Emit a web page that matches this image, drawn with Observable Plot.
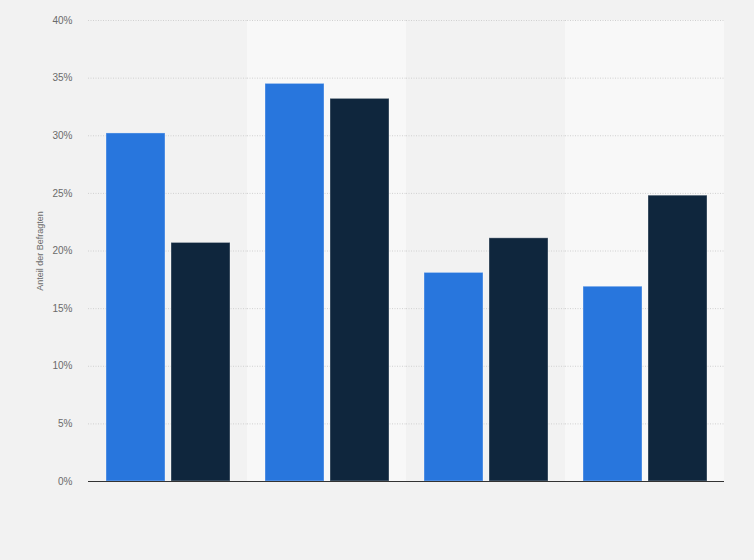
<!DOCTYPE html>
<html>
<head>
<meta charset="utf-8">
<script src="https://cdn.jsdelivr.net/npm/d3@7"></script>
<script src="https://cdn.jsdelivr.net/npm/@observablehq/plot@0.6"></script>
<style>
  html, body { margin: 0; padding: 0; background: #f2f2f2; }
  #chart svg { display: block; background: #f2f2f2; }
</style>
</head>
<body>
<div id="chart"></div>
<script>
const groups = ["Gruppe 1", "Gruppe 2", "Gruppe 3", "Gruppe 4"];
const series = ["Serie 1", "Serie 2"];
const serie1Values = [30.2, 34.5, 18.1, 16.9];
const serie2Values = [20.7, 33.2, 21.1, 24.8];
const shadedGroups = ["Gruppe 2", "Gruppe 4"];
const yTicks = [0, 5, 10, 15, 20, 25, 30, 35, 40];
const yLabel = "Anteil der Befragten";
const colors = ["#2876dd", "#0f263d"];

const data = [];
groups.forEach((g, i) => {
  data.push({group: g, series: series[0], value: serie1Values[i]});
  data.push({group: g, series: series[1], value: serie2Values[i]});
});
const bands = shadedGroups.map(g => ({group: g}));

const chart = Plot.plot({
  width: 754,
  height: 560,
  marginLeft: 88,
  marginRight: 30,
  marginTop: 20,
  marginBottom: 79,
  style: {background: "#f2f2f2", fontFamily: "Liberation Sans, Arial, sans-serif"},
  fx: {domain: groups, paddingInner: 0, paddingOuter: 0, axis: null, label: null},
  x: {domain: series, paddingInner: 0.09, paddingOuter: 0.25, align: 0.53, axis: null},
  y: {domain: [0, 40], axis: null},
  color: {domain: series, range: colors},
  marks: [
    Plot.rect(bands, {fx: "group", fill: "#f8f8f8"}),
    Plot.ruleY(yTicks.filter(d => d > 0), {stroke: "#d0d0d0", strokeWidth: 1, strokeDasharray: "1,1.5"}),
    Plot.barY(data, {fx: "group", x: "series", y: "value", fill: "series", stroke: "#ffffff", strokeOpacity: 0.35, strokeWidth: 1}),
    Plot.ruleY([0], {stroke: "#333333", strokeWidth: 1.2}),
    Plot.axisY({ticks: yTicks, tickSize: 0, tickPadding: 16, tickFormat: d => d + "%", fontSize: 10, color: "#6a6a6a", label: null, facetAnchor: "left"}),
    Plot.text([yLabel], {frameAnchor: "left", textAnchor: "middle", text: d => d, dx: -48, rotate: -90, fontSize: 9, fill: "#6a6a6a", facetAnchor: "left"})
  ]
});
document.getElementById("chart").appendChild(chart);
</script>
</body>
</html>
